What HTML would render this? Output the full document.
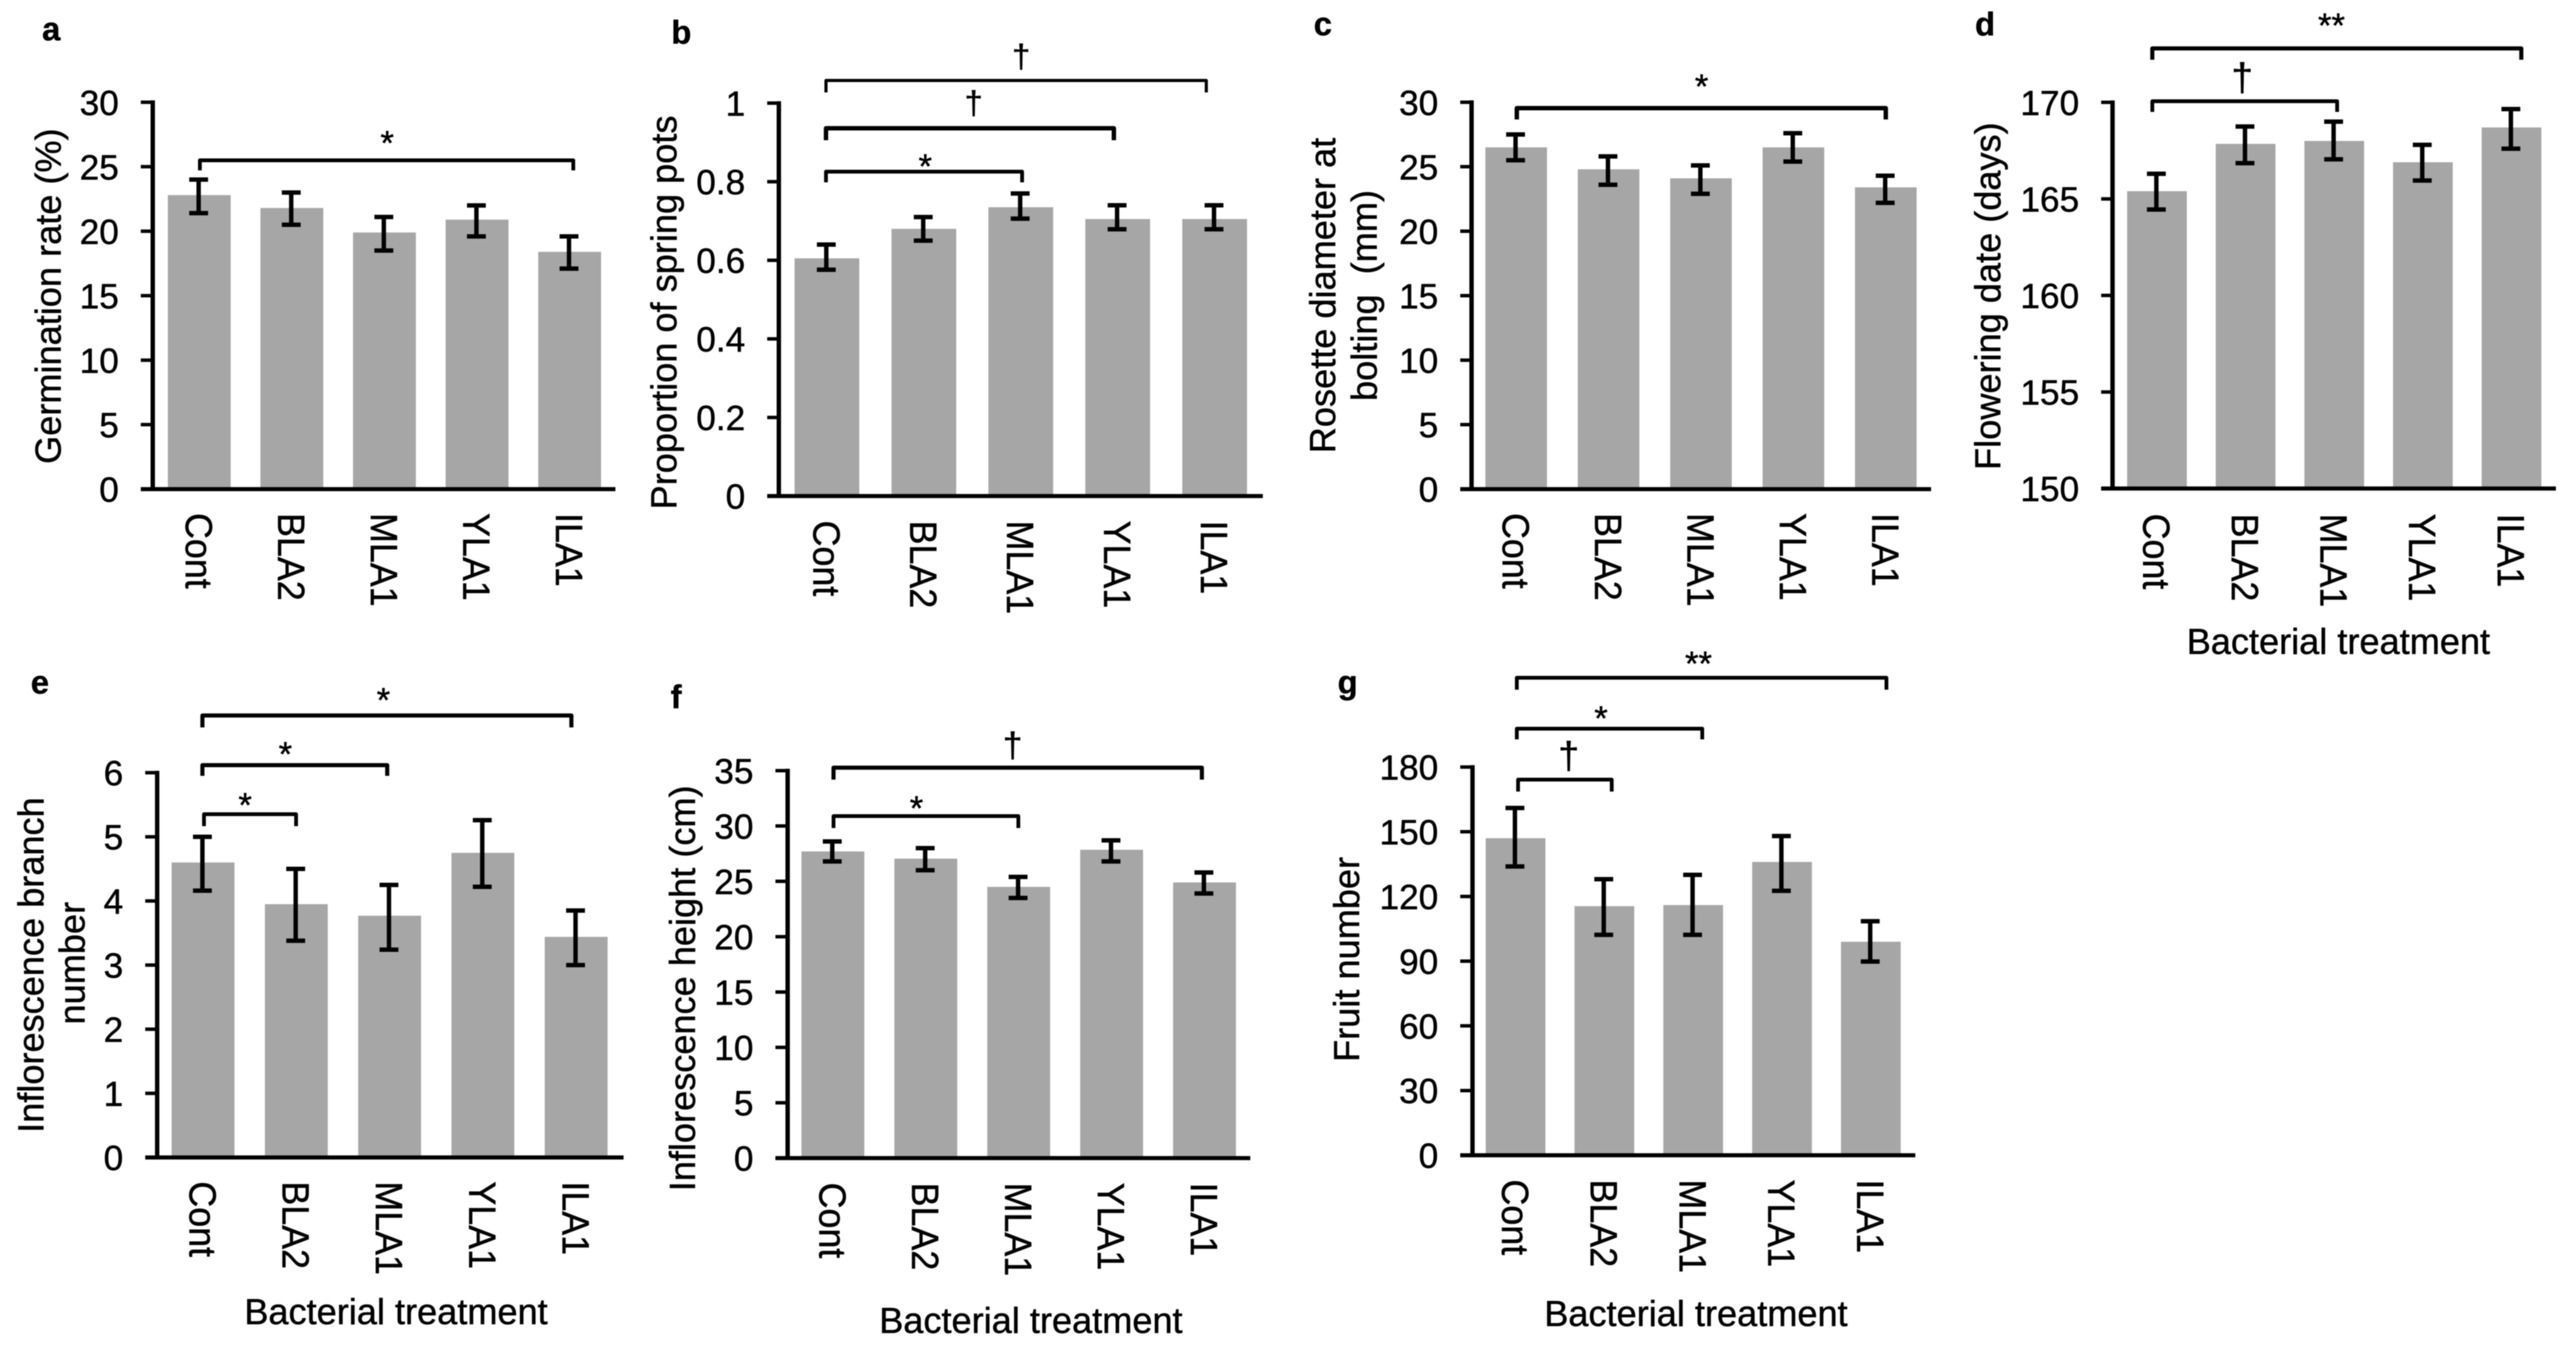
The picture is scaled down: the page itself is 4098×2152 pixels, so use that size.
<!DOCTYPE html>
<html lang="en">
<head>
<meta charset="utf-8">
<title>Bacterial treatment effects on plant traits</title>
<style>
html,body{margin:0;padding:0;background:#fff;width:4098px;height:2152px;overflow:hidden}
svg{display:block;font-family:"Liberation Sans",Arial,sans-serif;fill:#000;filter:blur(0.9px)}
text{stroke:#000;stroke-width:0.7px}
.letter{font-weight:bold;font-size:52px}
.title{font-size:57px}
.star{font-size:55px;text-anchor:middle}
.dag{font-size:52px;text-anchor:middle}
.xt{font-size:57.5px;text-anchor:middle}
.yt{font-size:57.5px;text-anchor:middle}
.br{fill:none;stroke:#000;stroke-width:6;stroke-linejoin:round}
</style>
</head>
<body>
<svg id="figure" width="4098" height="2152" viewBox="0 0 4098 2152" xmlns="http://www.w3.org/2000/svg">
  <rect x="0" y="0" width="4098" height="2152" fill="#fff"/>
  <g id="marks"></g>

  <text class="letter" x="67" y="64">a</text>
  <text class="letter" x="1068" y="69">b</text>
  <text class="letter" x="2090" y="56">c</text>
  <text class="letter" x="3142" y="56">d</text>
  <text class="letter" x="49" y="1103">e</text>
  <text class="letter" x="1067" y="1126">f</text>
  <text class="letter" x="2128" y="1103">g</text>

  <text class="yt" transform="translate(96.5,471) rotate(-90)">Germination rate (%)</text>
  <text class="yt" transform="translate(1076,497) rotate(-90)">Proportion of spring pots</text>
  <text class="yt" transform="translate(2124,470) rotate(-90)">Rosette diameter at</text>
  <text class="yt" transform="translate(2190,470) rotate(-90)" xml:space="preserve">bolting  (mm)</text>
  <text class="yt" transform="translate(3182,471) rotate(-90)">Flowering date (days)</text>
  <text class="yt" transform="translate(69,1535) rotate(-90)">Inflorescence branch</text>
  <text class="yt" transform="translate(134.5,1532) rotate(-90)">number</text>
  <text class="yt" transform="translate(1105.5,1572) rotate(-90)">Inflorescence height (cm)</text>
  <text class="yt" transform="translate(2162,1526) rotate(-90)">Fruit number</text>

  <text class="xt" x="3720" y="1040">Bacterial treatment</text>
  <text class="xt" x="630" y="2106">Bacterial treatment</text>
  <text class="xt" x="1640" y="2120">Bacterial treatment</text>
  <text class="xt" x="2698" y="2109">Bacterial treatment</text>

  <path class="br" d="M318 271V255H912V271"/>
  <text class="star" x="616" y="246">*</text>

  <path class="br" style="stroke-width:5" d="M1314 147V128H1919V147"/>
  <text class="dag" x="1624.5" y="107">†</text>
  <path class="br" style="stroke-width:7" d="M1314 223V204H1772V223"/>
  <text class="dag" x="1549" y="181">†</text>
  <path class="br" d="M1314 290V273H1626V290"/>
  <text class="star" x="1472" y="283">*</text>

  <path class="br" style="stroke-width:7" d="M2413 190V172H3000V190"/>
  <text class="star" x="2707" y="156">*</text>

  <path class="br" style="stroke-width:6.5" d="M3424 95V77H4011V95"/>
  <text class="star" x="3709" y="59">**</text>
  <path class="br" d="M3424 178V161H3718V178"/>
  <text class="dag" style="font-size:62px" x="3567" y="144">†</text>

  <path class="br" style="stroke-width:6.5" d="M322 1157V1138H909V1157"/>
  <text class="star" x="610" y="1132">*</text>
  <path class="br" style="stroke-width:6.5" d="M322 1234V1217H616V1234"/>
  <text class="star" x="454" y="1218">*</text>
  <path class="br" d="M324.5 1314V1295H471V1314"/>
  <text class="star" x="390" y="1299">*</text>

  <path class="br" style="stroke-width:6.5" d="M1326 1240V1221H1912V1240"/>
  <text class="dag" style="font-size:56px" x="1611" y="1204">†</text>
  <path class="br" d="M1326 1317V1298H1620V1317"/>
  <text class="star" x="1458" y="1304">*</text>

  <path class="br" d="M2413 1097V1078H3001V1097"/>
  <text class="star" x="2702" y="1074">**</text>
  <path class="br" d="M2413 1176V1159H2708V1176"/>
  <text class="star" x="2547" y="1161">*</text>
  <path class="br" d="M2415 1259V1240H2564V1259"/>
  <text class="dag" style="font-size:60px" x="2495.5" y="1222">†</text>
</svg>
<script>
// ---- shared categories ----
const categories = ["Cont", "BLA2", "MLA1", "YLA1", "ILA1"];

// ---- panel a: germination rate (%) ----
const aTicks = [0, 5, 10, 15, 20, 25, 30];
const aValues = [22.8, 21.8, 19.9, 20.9, 18.4];
const aErrHigh = [24.0, 23.0, 21.1, 22.0, 19.6];
const aErrLow = [21.4, 20.5, 18.5, 19.6, 17.1];

// ---- panel b: proportion of spring pots ----
const bTicks = [0, 0.2, 0.4, 0.6, 0.8, 1];
const bValues = [0.605, 0.68, 0.735, 0.705, 0.705];
const bErrHigh = [0.64, 0.71, 0.77, 0.74, 0.74];
const bErrLow = [0.576, 0.65, 0.706, 0.679, 0.679];

// ---- panel c: rosette diameter at bolting (mm) ----
const cTicks = [0, 5, 10, 15, 20, 25, 30];
const cValues = [26.5, 24.8, 24.1, 26.5, 23.4];
const cErrHigh = [27.5, 25.8, 25.1, 27.6, 24.3];
const cErrLow = [25.5, 23.6, 22.9, 25.4, 22.2];

// ---- panel d: flowering date (days) ----
const dTicks = [150, 155, 160, 165, 170];
const dValues = [165.4, 167.85, 168.0, 166.9, 168.7];
const dErrHigh = [166.3, 168.75, 169.0, 167.8, 169.65];
const dErrLow = [164.45, 166.85, 167.05, 165.95, 167.6];

// ---- panel e: inflorescence branch number ----
const eTicks = [0, 1, 2, 3, 4, 5, 6];
const eValues = [4.6, 3.95, 3.77, 4.75, 3.44];
const eErrHigh = [5.0, 4.5, 4.25, 5.26, 3.85];
const eErrLow = [4.16, 3.38, 3.24, 4.22, 3.0];

// ---- panel f: inflorescence height (cm) ----
const fTicks = [0, 5, 10, 15, 20, 25, 30, 35];
const fValues = [27.7, 27.05, 24.5, 27.85, 24.9];
const fErrHigh = [28.6, 28.0, 25.4, 28.7, 25.8];
const fErrLow = [26.8, 26.0, 23.5, 26.8, 23.9];

// ---- panel g: fruit number ----
const gTicks = [0, 30, 60, 90, 120, 150, 180];
const gValues = [147, 115.5, 116, 136, 99];
const gErrHigh = [161, 128, 130, 148, 108.5];
const gErrLow = [133.9, 102.2, 102.2, 122.6, 89.8];

// ---- panel geometry (axis frames only) ----
const frameA = {id:"a", axisX:243, tickLeft:224, right:979, top:162.6, bottom:778, first:317, step:147.3, barW:100, labelTop:816};
const frameB = {id:"b", axisX:1239, tickLeft:1220.5, right:2009, top:164, bottom:789, first:1315.5, step:154.2, barW:103, labelTop:828};
const frameC = {id:"c", axisX:2341, tickLeft:2323, right:3072, top:162.6, bottom:778, first:2412, step:147, barW:98, labelTop:816};
const frameD = {id:"d", axisX:3360.7, tickLeft:3342.6, right:4066, top:162.8, bottom:777, first:3431.4, step:141, barW:95, labelTop:817};
const frameE = {id:"e", axisX:250, tickLeft:231, right:992, top:1229, bottom:1841, first:323, step:148.4, barW:100, labelTop:1879};
const frameF = {id:"f", axisX:1253, tickLeft:1233.6, right:1989, top:1225.7, bottom:1842, first:1325, step:147.8, barW:100, labelTop:1881};
const frameG = {id:"g", axisX:2342.5, tickLeft:2323, right:3047, top:1220, bottom:1837.5, first:2411, step:141.3, barW:95, labelTop:1876};

const SVGNS = "http://www.w3.org/2000/svg";
const marks = document.getElementById("marks");
const BAR = "#a6a6a6";
const INK = "#000";
const TICK_FS = 56;
const CAT_FS = 57;

function shape(parent, tag, props, text) {
  const el = document.createElementNS(SVGNS, tag);
  for (const k in props) el.setAttribute(k, props[k]);
  if (text !== undefined) el.textContent = text;
  parent.appendChild(el);
  return el;
}

function drawPanel(frame, ticks, values, errHigh, errLow) {
  const yMin = ticks[0];
  const yMax = ticks[ticks.length - 1];
  const yScale = v => frame.bottom - (v - yMin) / (yMax - yMin) * (frame.bottom - frame.top);
  const xScale = i => frame.first + i * frame.step;

  const g = shape(marks, "g", {});
  
  

  values.forEach((v, i) => {
    const bar = shape(g, "rect", {
      x: xScale(i) - frame.barW / 2,
      y: yScale(v),
      width: frame.barW,
      height: frame.bottom - yScale(v),
      fill: BAR
    });
    
    
  });

  values.forEach((v, i) => {
    const cx = xScale(i) - 1;
    const hi = yScale(errHigh[i]);
    const lo = yScale(errLow[i]);
    const eb = shape(g, "path", {
      d: "M" + (cx - 15) + " " + hi + "H" + (cx + 15) + "M" + cx + " " + hi + "V" + lo + "M" + (cx - 15) + " " + lo + "H" + (cx + 15),
      fill: "none",
      stroke: INK,
      "stroke-width": 7
    });
    
    
  });

  const yAxis = shape(g, "line", {x1: frame.axisX, x2: frame.axisX, y1: frame.top - 3, y2: frame.bottom + 3, stroke: INK, "stroke-width": 7});
  
  

  const xAxis = shape(g, "line", {x1: frame.tickLeft, x2: frame.right, y1: frame.bottom, y2: frame.bottom, stroke: INK, "stroke-width": 6.5});
  
  

  ticks.forEach(t => {
    const y = yScale(t);
    const mark = shape(g, "line", {x1: frame.tickLeft, x2: frame.axisX, y1: y, y2: y, stroke: INK, "stroke-width": 5.5});
    
    
    const label = shape(g, "text", {
      x: frame.tickLeft - 35,
      y: y + 0.36 * TICK_FS,
      "text-anchor": "end",
      "font-size": TICK_FS
    }, String(t));
    
    
  });

  categories.forEach((c, i) => {
    const bx = xScale(i) - 0.38 * CAT_FS;
    const label = shape(g, "text", {
      transform: "translate(" + bx + "," + frame.labelTop + ") rotate(90) scale(1,1.06)",
      "font-size": CAT_FS
    }, c);
    
    
  });
}

drawPanel(frameA, aTicks, aValues, aErrHigh, aErrLow);
drawPanel(frameB, bTicks, bValues, bErrHigh, bErrLow);
drawPanel(frameC, cTicks, cValues, cErrHigh, cErrLow);
drawPanel(frameD, dTicks, dValues, dErrHigh, dErrLow);
drawPanel(frameE, eTicks, eValues, eErrHigh, eErrLow);
drawPanel(frameF, fTicks, fValues, fErrHigh, fErrLow);
drawPanel(frameG, gTicks, gValues, gErrHigh, gErrLow);
</script>
</body>
</html>
